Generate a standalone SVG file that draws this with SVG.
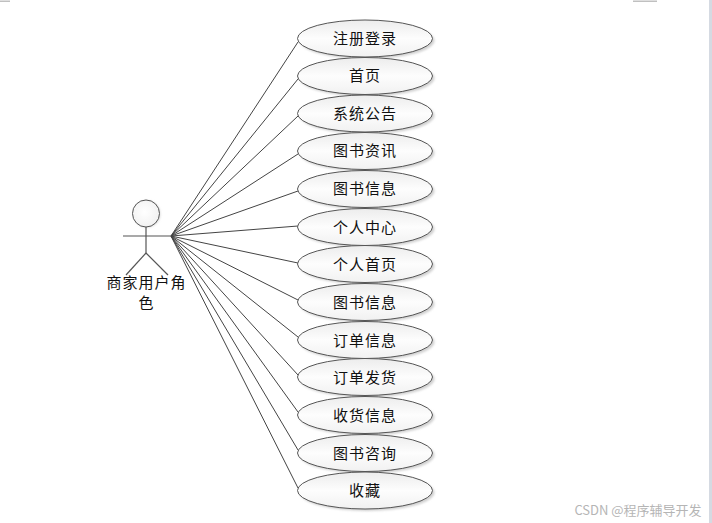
<svg xmlns="http://www.w3.org/2000/svg" width="712" height="523" viewBox="0 0 712 523">
<defs>
<linearGradient id="g" x1="0" y1="0" x2="0" y2="1"><stop offset="0" stop-color="#ececec"/><stop offset="0.5" stop-color="#fdfdfd"/><stop offset="1" stop-color="#f1f1f1"/></linearGradient>
<radialGradient id="h" cx="0.45" cy="0.45" r="0.7"><stop offset="0" stop-color="#ffffff"/><stop offset="1" stop-color="#eeeeee"/></radialGradient>
<filter id="s" x="-10%" y="-20%" width="125%" height="150%"><feGaussianBlur stdDeviation="1.2"/></filter>
<ellipse id="uc" cx="0" cy="0" rx="67.500" ry="18.500" fill="url(#g)" stroke="#555" stroke-width="1"/>
<ellipse id="sh" cx="2" cy="2" rx="67.500" ry="18.500" fill="#d0d0d0" filter="url(#s)"/>
</defs>
<style>
text{font-family:"Noto Sans CJK SC","Liberation Sans",sans-serif;font-size:15px;letter-spacing:1px;fill:#111;text-anchor:middle}
.c line{stroke:#444;stroke-width:1;fill:none}
.a line{stroke:#555;stroke-width:1.200}
.m{fill:#c0c0c0}
</style>
<rect width="712" height="523" fill="#fff"/>
<rect class="m" x="0" y="0.500" width="10" height="1.500"/>
<rect class="m" x="633" y="0.500" width="24" height="1.500"/>
<rect x="709" y="0" width="3" height="523" fill="#d5dae2"/>
<g id="connectors" class="c">
<line x1="171" y1="236" x2="298" y2="42"/>
<line x1="171" y1="236" x2="298" y2="79"/>
<line x1="171" y1="236" x2="298" y2="116"/>
<line x1="171" y1="236" x2="298" y2="154"/>
<line x1="171" y1="236" x2="298" y2="191"/>
<line x1="171" y1="236" x2="298" y2="226"/>
<line x1="171" y1="236" x2="298" y2="263"/>
<line x1="171" y1="236" x2="298" y2="300"/>
<line x1="171" y1="236" x2="298" y2="337"/>
<line x1="171" y1="236" x2="298" y2="375"/>
<line x1="171" y1="236" x2="298" y2="412"/>
<line x1="171" y1="236" x2="298" y2="450"/>
<line x1="171" y1="236" x2="298" y2="488"/>
</g>
<g id="actor" class="a">
<circle cx="147" cy="214" r="13.500" fill="#ddd" stroke="none" filter="url(#s)"/>
<circle cx="146" cy="213.500" r="13.500" fill="url(#h)" stroke="#555" stroke-width="1"/>
<line x1="123" y1="236" x2="171" y2="236"/>
<line x1="146" y1="227" x2="146" y2="253"/>
<line x1="146" y1="253" x2="126" y2="275"/>
<line x1="146" y1="253" x2="168" y2="275"/>
<text x="146.500" y="288">商家用户角</text>
<text x="146.500" y="308">色</text>
</g>
<g id="n1" transform="translate(365,38.500)"><use href="#sh"/><use href="#uc"/><text y="5">注册登录</text></g>
<g id="n2" transform="translate(365,76)"><use href="#sh"/><use href="#uc"/><text y="5">首页</text></g>
<g id="n3" transform="translate(365,113.500)"><use href="#sh"/><use href="#uc"/><text y="5">系统公告</text></g>
<g id="n4" transform="translate(365,151)"><use href="#sh"/><use href="#uc"/><text y="5">图书资讯</text></g>
<g id="n5" transform="translate(365,189)"><use href="#sh"/><use href="#uc"/><text y="5">图书信息</text></g>
<g id="n6" transform="translate(365,227)"><use href="#sh"/><use href="#uc"/><text y="5.500">个人中心</text></g>
<g id="n7" transform="translate(365,264)"><use href="#sh"/><use href="#uc"/><text y="5.500">个人首页</text></g>
<g id="n8" transform="translate(365,302)"><use href="#sh"/><use href="#uc"/><text y="5.500">图书信息</text></g>
<g id="n9" transform="translate(365,340)"><use href="#sh"/><use href="#uc"/><text y="5.500">订单信息</text></g>
<g id="n10" transform="translate(365,377)"><use href="#sh"/><use href="#uc"/><text y="5.500">订单发货</text></g>
<g id="n11" transform="translate(365,415)"><use href="#sh"/><use href="#uc"/><text y="5.500">收货信息</text></g>
<g id="n12" transform="translate(365,453)"><use href="#sh"/><use href="#uc"/><text y="5.500">图书咨询</text></g>
<g id="n13" transform="translate(365,490.500)"><use href="#sh"/><use href="#uc"/><text y="5.500">收藏</text></g>
<text x="638" y="515" style="font-size:13px;letter-spacing:0;fill:#b5b5b5">CSDN @程序辅导开发</text>
</svg>
